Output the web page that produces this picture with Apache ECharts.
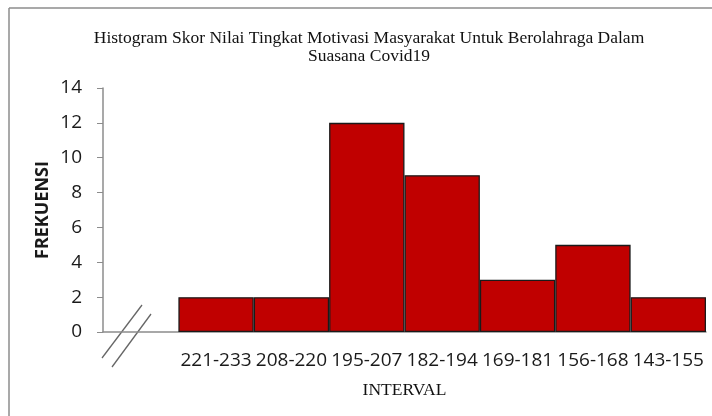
<!DOCTYPE html>
<html>
<head>
	<meta charset="utf-8">
	<title>Histogram Skor</title>
	<style type="text/css">
		body { margin: 0; padding: 0; background: #fff; }
		#main { width: 712px; height: 416px; }
	</style>
	<script src="https://cdn.jsdelivr.net/npm/echarts@6/dist/echarts.min.js"></script>
</head>
<body>
	<div id="main"></div>
	<script type="text/javascript">
	// data
	var intervals = ['', '221-233', '208-220', '195-207', '182-194', '169-181', '156-168', '143-155'];
	var frekuensi = [null, 2, 2, 12, 9, 3, 5, 2];
	var yTicks = [0, 14, 2]; // min, max, step

	var chart = echarts.init(document.getElementById('main'));
	var option = {
		animation: false,
		title: {
			text: 'Histogram Skor Nilai Tingkat Motivasi Masyarakat Untuk Berolahraga Dalam\nSuasana Covid19',
			left: 364,
			top: 24,
			textAlign: 'center',
			textStyle: {
				fontFamily: 'Liberation Serif',
				fontSize: 17.5,
				fontWeight: 'normal',
				color: '#111',
				lineHeight: 18
			}
		},
		grid: { left: 103, right: 6, top: 88, bottom: 84 },
		xAxis: {
			type: 'category',
			data: intervals,
			name: 'INTERVAL',
			nameLocation: 'middle',
			nameGap: 49,
			nameTextStyle: { fontFamily: 'Liberation Serif', fontSize: 17.5, color: '#111' },
			axisLine: { lineStyle: { color: '#8c8c8c', width: 1.5 } },
			axisTick: { show: false },
			axisLabel: { interval: 0, fontFamily: 'Open Sans', fontSize: 19, color: '#1a1a1a', margin: 19 }
		},
		yAxis: {
			type: 'value',
			min: yTicks[0],
			max: yTicks[1],
			interval: yTicks[2],
			name: 'FREKUENSI',
			nameLocation: 'middle',
			nameGap: 51,
			nameMoveOverlap: false,
			nameRotate: 90,
			nameTextStyle: { fontFamily: 'Open Sans', fontSize: 18, fontWeight: 'bold', color: '#1a1a1a' },
			axisLine: { show: true, lineStyle: { color: '#8c8c8c', width: 1.5 } },
			axisTick: { show: true, length: 6, lineStyle: { color: '#8c8c8c' } },
			splitLine: { show: false },
			axisLabel: { fontFamily: 'Open Sans', fontSize: 19, color: '#1a1a1a', margin: 21 }
		},
		series: [{
			type: 'bar',
			data: frekuensi,
			barCategoryGap: 0,
			itemStyle: { color: '#c00000', borderColor: '#1a1a1a', borderWidth: 1.3 }
		}],
		graphic: [
			// frame lines of the cropped picture
			{ type: 'line', shape: { x1: 9, y1: 8, x2: 712, y2: 8 }, style: { stroke: '#8c8c8c', lineWidth: 1.5 } },
			{ type: 'line', shape: { x1: 9, y1: 8, x2: 9, y2: 416 }, style: { stroke: '#8c8c8c', lineWidth: 1.5 } },
			// axis break marks
			{ type: 'line', shape: { x1: 102, y1: 358, x2: 142, y2: 305 }, style: { stroke: '#666', lineWidth: 1.3 } },
			{ type: 'line', shape: { x1: 112, y1: 367, x2: 151, y2: 314 }, style: { stroke: '#666', lineWidth: 1.3 } }
		]
	};
	chart.setOption(option);
	</script>
</body>
</html>
